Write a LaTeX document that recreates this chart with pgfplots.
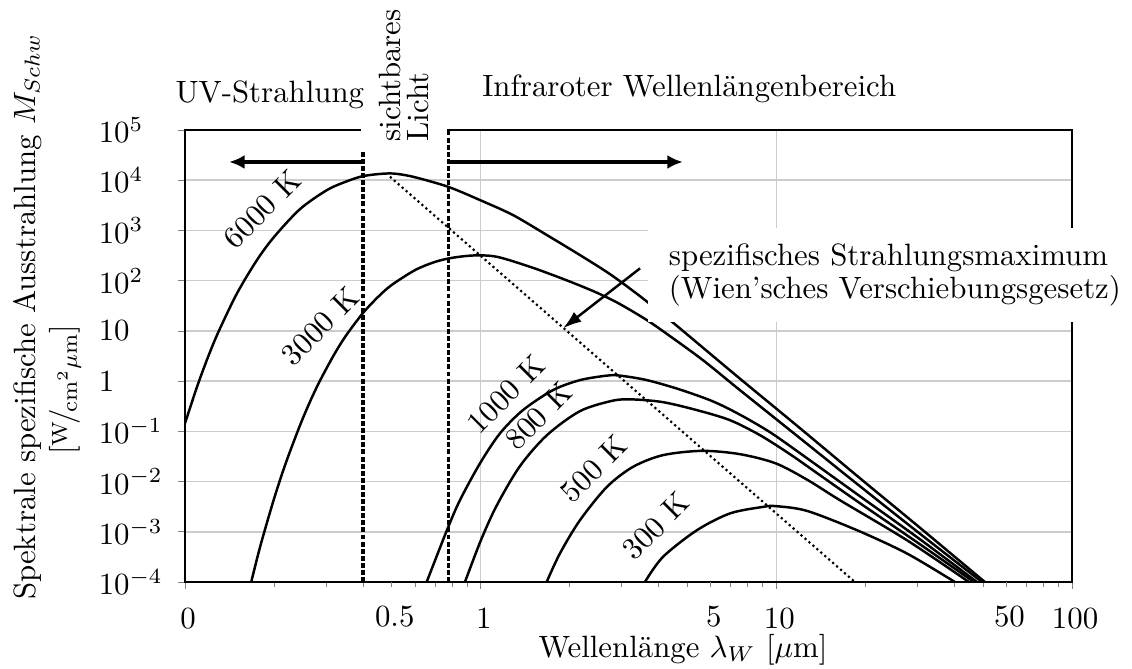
\documentclass[border=0pt]{standalone}
\usepackage{fontspec}
\usepackage{pgfplots}
\pgfplotsset{compat=1.18}
\usetikzlibrary{arrows.meta}

% slanted unit fraction, W over cm^2 um
\newcommand{\nfrac}[2]{\raisebox{0.45ex}{\scriptsize #1}\kern-0.1em/\kern-0.1em\raisebox{-0.3ex}{\scriptsize #2}}

\begin{document}
\begin{tikzpicture}
\useasboundingbox (-60.03pt,-27.91pt) rectangle (307.30pt,188.86pt);
\begin{axis}[
  at={(0pt,0pt)}, anchor=south west,
  scale only axis, width=287.83pt, height=146.67pt,
  xmode=log, ymode=log,
  xmin=0.1, xmax=100, ymin=1e-4, ymax=1e5,
  clip mode=individual,
  tick pos=left, tick align=outside,
  major tick length=2.2pt, minor tick length=1.5pt,
  xtick={0.1,1,10,100},
  xticklabels={$0$,$1$,$10$,$100$},
  minor xtick={0.2,0.3,0.4,0.5,0.6,0.7,0.8,0.9,2,3,4,5,6,7,8,9,20,30,40,50,60,70,80,90},
  extra x ticks={0.5,6,60},
  extra x tick labels={$0.5$,$5$,$50$},
  extra x tick style={grid=none, major tick length=1.5pt},
  xticklabel style={yshift=-3pt, xshift=1pt},
  ytick={1e-4,1e-3,1e-2,1e-1,1,10,100,1000,10000,100000},
  yticklabels={$10^{-4}$,$10^{-3}$,$10^{-2}$,$10^{-1}$,$1$,$10$,$10^2$,$10^3$,$10^4$,$10^5$},
  yminorticks=false,
  yticklabel style={anchor=west, xshift=-29.3pt},
  xmajorgrids, ymajorgrids,
  major grid style={gray!40, line width=0.5pt},
  curve/.style={black, line width=0.8pt, smooth},
]
% black body curves, M in W/(cm^2 um)
% 6000 K
\addplot[curve] coordinates {
 (0.1,0.144) (0.11,0.79) (0.12,3.16) (0.13,9.78) (0.15,56.2) (0.175,255)
 (0.2,740) (0.2448,2655) (0.3021,6368) (0.3531,9550) (0.3968,11940)
 (0.4459,13180) (0.5052,13610) (0.5903,11740) (0.7751,7430) (0.9945,4034)
 (1.286,2027) (1.676,809) (2.167,323.6) (2.737,135.3) (3.457,49.3) (4.367,16.4)
 (5.515,5.21) (7.532,1.121) (12.02,0.1158) (19.17,0.01169) (30.59,1.207e-3)
 (50.75,1e-4)};
% 3000 K
\addplot[curve] coordinates {
 (0.1675,1e-4) (0.18,5.32e-4) (0.2,4.5e-3) (0.22,0.0247) (0.25,0.178) (0.28,0.79)
 (0.3173,3.15) (0.35,7.98) (0.4,22.7) (0.45,47.6) (0.5,82) (0.6,162.5) (0.7,236)
 (0.8,285) (0.95,318) (1.135,299) (1.468,189.2) (1.811,120.7) (2.167,79.9)
 (2.532,54.1) (2.959,34.2) (3.651,16.4) (4.367,7.88) (5.646,2.62) (7.532,0.662)
 (12.02,0.0732) (19.17,8.1e-3) (30.59,9.17e-4) (49.58,1e-4)};
% 1000 K
\addplot[curve] coordinates {
 (0.6568,1e-4) (0.7691,1.076e-3) (0.8511,4.26e-3) (0.9945,0.02296) (1.162,0.0908)
 (1.390,0.2644) (1.756,0.662) (2.167,1.047) (2.674,1.287) (2.959,1.287)
 (3.651,1.047) (4.721,0.68) (6.105,0.395) (7.532,0.215) (9.515,0.0964)
 (12.02,0.0368) (19.17,5.12e-3) (30.59,7.12e-4) (47.7,1e-4)};
% 800 K
\addplot[curve] coordinates {
 (0.8850,1e-4) (1.002,6.8e-4) (1.135,3.39e-3) (1.358,0.02028) (1.676,0.0840)
 (2.167,0.2526) (2.802,0.4089) (3.274,0.4321) (4.135,0.3817) (5.389,0.2645)
 (6.969,0.167) (8.804,0.0840) (11.12,0.03515) (14.05,0.01340) (19.17,3.72e-3)
 (30.59,5.66e-4) (46.59,1e-4)};
% 500 K
\addplot[curve] coordinates {
 (1.672,1e-4) (1.854,3.70e-4) (2.167,1.70e-3) (2.674,7.84e-3) (3.274,0.01963)
 (4.135,0.03357) (5.603,0.04089) (7.532,0.03515) (9.970,0.02296) (12.79,0.01066)
 (16.41,4.26e-3) (27.65,6.80e-4) (44.81,1e-4)};
% 300 K
\addplot[curve] coordinates {
 (3.594,1e-4) (4.135,3.16e-4) (5.389,1.076e-3) (6.969,2.32e-3) (9.010,3.13e-3)
 (9.970,3.24e-3) (12.69,2.61e-3) (18.74,1.076e-3) (27.65,3.70e-4) (40.18,1e-4)};

% Wien displacement line through the maxima
\addplot[black, line width=0.7pt, densely dotted] coordinates {(0.4935,1.174e4) (18.45,1e-4)};

% curve labels
\node[rotate=45] at (axis cs:0.1821,2668) {6000 K};
\node[rotate=45] at (axis cs:0.2862,12.45) {3000 K};
\node[rotate=45] at (axis cs:1.218,0.5507) {1000 K};
\node[rotate=45] at (axis cs:1.568,0.2007) {800 K};
\node[rotate=45] at (axis cs:2.422,0.01806) {500 K};
\node[rotate=45] at (axis cs:3.917,1.292e-3) {300 K};

% limits of the visible band
\draw[black, line width=1pt, dash pattern=on 1.6pt off 0.7pt] (axis cs:0.4,1e-4) -- (axis cs:0.4,1e5);
\draw[black, line width=1pt, dash pattern=on 1.6pt off 0.7pt] (axis cs:0.78,1e-4) -- (axis cs:0.78,1e5);
\draw[black, line width=1.1pt, -{Latex[length=5pt,width=4.5pt]}] (axis cs:0.4,2.31e4) -- (axis cs:0.141,2.31e4);
\draw[black, line width=1.1pt, -{Latex[length=5pt,width=4.5pt]}] (axis cs:0.78,2.31e4) -- (axis cs:4.83,2.31e4);

\node[rotate=90, anchor=west, fill=white, align=left, inner xsep=3.2pt, inner ysep=6pt]
  at (axis cs:0.5503,3.65e4) {sichtbares\\[-3pt]Licht};
\node[anchor=base west, inner sep=0pt] at (axis cs:0.0925,3.50e5) {UV-Strahlung};
\node[anchor=base west, inner sep=0pt] at (axis cs:1.0078,4.61e5) {Infraroter Wellenlängenbereich};

% Wien annotation
\node[fill=white, align=left, inner xsep=6.8pt, inner ysep=5pt] at (axis cs:25.18,129.4)
  {spezifisches Strahlungsmaximum\\[-1.3pt](Wien'sches Verschiebungsgesetz)};
\draw[black, line width=0.8pt, -{Latex[length=6pt,width=4pt]}] (axis cs:3.46,176) -- (axis cs:1.90,11.3);

% axis titles
\node[rotate=90, anchor=base, inner sep=0pt] at (axis cs:0.0311,19.3) {Spektrale spezifische Ausstrahlung $M_{Schw}$};
\node[rotate=90, anchor=base, inner sep=0pt] at (axis cs:0.0418,0.662) {[\nfrac{W}{cm$^2\mu$m}]};
\node[anchor=base, inner sep=0pt] at (axis cs:4.833,3.18e-6) {Wellenlänge $\lambda_W$~[$\mu$m]};
\end{axis}
\end{tikzpicture}
\end{document}
